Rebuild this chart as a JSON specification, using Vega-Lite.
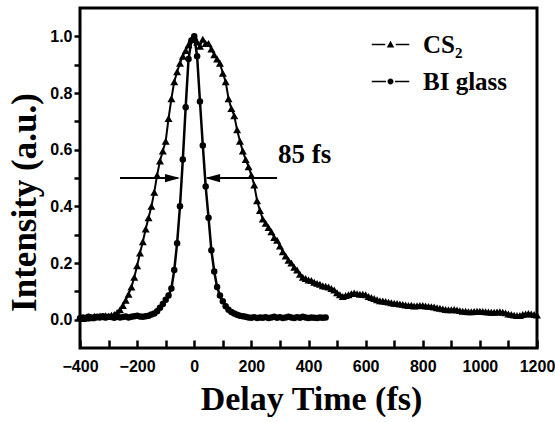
{
  "$schema": "https://vega.github.io/schema/vega-lite/v6.json",
  "width": 457,
  "height": 340,
  "autosize": "none",
  "padding": {"left": 80, "top": 8, "right": 18, "bottom": 74},
  "background": "white",
  "datasets": {
    "cs2": [
      {"t":-400,"v":0.008},{"t":-390,"v":0.004},{"t":-380,"v":0.006},{"t":-370,"v":0.01},{"t":-360,"v":0.007},{"t":-350,"v":0.012},{"t":-340,"v":0.009},{"t":-330,"v":0.013},{"t":-320,"v":0.01},{"t":-310,"v":0.014},{"t":-300,"v":0.012},{"t":-290,"v":0.016},{"t":-280,"v":0.018},{"t":-270,"v":0.025},{"t":-260,"v":0.035},{"t":-250,"v":0.05},{"t":-240,"v":0.068},{"t":-230,"v":0.09},{"t":-220,"v":0.115},{"t":-210,"v":0.15},{"t":-200,"v":0.19},{"t":-190,"v":0.235},{"t":-180,"v":0.275},{"t":-170,"v":0.32},{"t":-160,"v":0.36},{"t":-150,"v":0.4},{"t":-140,"v":0.45},{"t":-130,"v":0.51},{"t":-120,"v":0.56},{"t":-110,"v":0.595},{"t":-100,"v":0.63},{"t":-90,"v":0.71},{"t":-80,"v":0.78},{"t":-70,"v":0.84},{"t":-60,"v":0.875},{"t":-50,"v":0.905},{"t":-40,"v":0.93},{"t":-30,"v":0.95},{"t":-20,"v":0.97},{"t":-10,"v":0.99},{"t":0,"v":1.0},{"t":10,"v":0.98},{"t":20,"v":0.965},{"t":30,"v":0.99},{"t":40,"v":0.975},{"t":50,"v":0.975},{"t":60,"v":0.955},{"t":70,"v":0.935},{"t":80,"v":0.92},{"t":90,"v":0.905},{"t":100,"v":0.87},{"t":110,"v":0.84},{"t":120,"v":0.78},{"t":130,"v":0.745},{"t":140,"v":0.72},{"t":150,"v":0.67},{"t":160,"v":0.63},{"t":170,"v":0.595},{"t":180,"v":0.565},{"t":190,"v":0.54},{"t":200,"v":0.51},{"t":210,"v":0.475},{"t":220,"v":0.42},{"t":230,"v":0.385},{"t":240,"v":0.355},{"t":250,"v":0.34},{"t":260,"v":0.325},{"t":270,"v":0.31},{"t":280,"v":0.29},{"t":290,"v":0.28},{"t":300,"v":0.26},{"t":310,"v":0.24},{"t":320,"v":0.225},{"t":330,"v":0.21},{"t":340,"v":0.2},{"t":350,"v":0.185},{"t":360,"v":0.175},{"t":370,"v":0.16},{"t":380,"v":0.15},{"t":390,"v":0.145},{"t":400,"v":0.14},{"t":410,"v":0.138},{"t":420,"v":0.132},{"t":430,"v":0.128},{"t":440,"v":0.125},{"t":450,"v":0.12},{"t":460,"v":0.118},{"t":470,"v":0.115},{"t":480,"v":0.11},{"t":490,"v":0.105},{"t":500,"v":0.095},{"t":510,"v":0.088},{"t":520,"v":0.082},{"t":530,"v":0.085},{"t":540,"v":0.088},{"t":550,"v":0.092},{"t":560,"v":0.094},{"t":570,"v":0.092},{"t":580,"v":0.09},{"t":590,"v":0.09},{"t":600,"v":0.088},{"t":610,"v":0.082},{"t":620,"v":0.078},{"t":630,"v":0.075},{"t":640,"v":0.07},{"t":650,"v":0.067},{"t":660,"v":0.066},{"t":670,"v":0.064},{"t":680,"v":0.062},{"t":690,"v":0.06},{"t":700,"v":0.058},{"t":710,"v":0.057},{"t":720,"v":0.055},{"t":730,"v":0.054},{"t":740,"v":0.052},{"t":750,"v":0.05},{"t":760,"v":0.051},{"t":770,"v":0.048},{"t":780,"v":0.049},{"t":790,"v":0.05},{"t":800,"v":0.05},{"t":810,"v":0.048},{"t":820,"v":0.047},{"t":830,"v":0.046},{"t":840,"v":0.045},{"t":850,"v":0.042},{"t":860,"v":0.04},{"t":870,"v":0.038},{"t":880,"v":0.036},{"t":890,"v":0.035},{"t":900,"v":0.035},{"t":910,"v":0.036},{"t":920,"v":0.034},{"t":930,"v":0.032},{"t":940,"v":0.03},{"t":950,"v":0.03},{"t":960,"v":0.028},{"t":970,"v":0.028},{"t":980,"v":0.029},{"t":990,"v":0.03},{"t":1000,"v":0.03},{"t":1010,"v":0.029},{"t":1020,"v":0.028},{"t":1030,"v":0.027},{"t":1040,"v":0.026},{"t":1050,"v":0.026},{"t":1060,"v":0.027},{"t":1070,"v":0.028},{"t":1080,"v":0.026},{"t":1090,"v":0.024},{"t":1100,"v":0.02},{"t":1110,"v":0.018},{"t":1120,"v":0.016},{"t":1130,"v":0.015},{"t":1140,"v":0.015},{"t":1150,"v":0.018},{"t":1160,"v":0.02},{"t":1170,"v":0.022},{"t":1180,"v":0.02},{"t":1190,"v":0.018},{"t":1200,"v":0.016}
    ],
    "bi": [
      {"t":-400,"v":0.005},{"t":-390,"v":0.008},{"t":-380,"v":0.006},{"t":-370,"v":0.01},{"t":-360,"v":0.008},{"t":-350,"v":0.007},{"t":-340,"v":0.01},{"t":-330,"v":0.009},{"t":-320,"v":0.012},{"t":-310,"v":0.008},{"t":-300,"v":0.01},{"t":-290,"v":0.009},{"t":-280,"v":0.007},{"t":-270,"v":0.01},{"t":-260,"v":0.008},{"t":-250,"v":0.009},{"t":-240,"v":0.011},{"t":-230,"v":0.008},{"t":-220,"v":0.01},{"t":-210,"v":0.012},{"t":-200,"v":0.014},{"t":-190,"v":0.011},{"t":-180,"v":0.01},{"t":-170,"v":0.012},{"t":-160,"v":0.014},{"t":-150,"v":0.018},{"t":-140,"v":0.022},{"t":-130,"v":0.03},{"t":-120,"v":0.042},{"t":-110,"v":0.055},{"t":-100,"v":0.07},{"t":-90,"v":0.085},{"t":-80,"v":0.11},{"t":-70,"v":0.175},{"t":-60,"v":0.27},{"t":-50,"v":0.4},{"t":-40,"v":0.565},{"t":-30,"v":0.75},{"t":-20,"v":0.92},{"t":-10,"v":0.985},{"t":0,"v":1.0},{"t":10,"v":0.93},{"t":20,"v":0.77},{"t":30,"v":0.615},{"t":40,"v":0.47},{"t":50,"v":0.36},{"t":60,"v":0.245},{"t":70,"v":0.17},{"t":80,"v":0.115},{"t":90,"v":0.085},{"t":100,"v":0.065},{"t":110,"v":0.047},{"t":120,"v":0.035},{"t":130,"v":0.027},{"t":140,"v":0.022},{"t":150,"v":0.017},{"t":160,"v":0.014},{"t":170,"v":0.012},{"t":180,"v":0.01},{"t":190,"v":0.008},{"t":200,"v":0.007},{"t":210,"v":0.009},{"t":220,"v":0.006},{"t":230,"v":0.008},{"t":240,"v":0.007},{"t":250,"v":0.009},{"t":260,"v":0.006},{"t":270,"v":0.008},{"t":280,"v":0.01},{"t":290,"v":0.007},{"t":300,"v":0.009},{"t":310,"v":0.006},{"t":320,"v":0.008},{"t":330,"v":0.01},{"t":340,"v":0.008},{"t":350,"v":0.006},{"t":360,"v":0.009},{"t":370,"v":0.007},{"t":380,"v":0.01},{"t":390,"v":0.008},{"t":400,"v":0.006},{"t":410,"v":0.008},{"t":420,"v":0.007},{"t":430,"v":0.006},{"t":440,"v":0.008},{"t":450,"v":0.007},{"t":460,"v":0.008}
    ],
    "series": [{"s": "CS₂", "t": null, "v": null}, {"s": "BI glass", "t": null, "v": null}],
    "arrows": [
      {"t":-260,"t2":-58,"v":0.5},
      {"t":46,"t2":290,"v":0.5}
    ],
    "headR": [{"t":-50,"v":0.5}],
    "headL": [{"t":38,"v":0.5}],
    "note": [{"t":293,"v":0.553,"label":"85 fs"}]
  },
  "encoding": {
    "x": {
      "field": "t", "type": "quantitative",
      "scale": {"domain": [-400, 1200], "nice": false, "zero": false},
      "axis": {
        "values": [-400,-300,-200,-100,0,100,200,300,400,500,600,700,800,900,1000,1100,1200],
        "format": "d",
        "labelExpr": "datum.value % 200 === 0 ? datum.label : ''",
        "offset": -8,
        "tickSize": 8,
        "tickColor": "black",
        "labelPadding": 10,
        "title": "Delay Time (fs)",
        "titleX": 231,
        "titleY": 69
      }
    },
    "y": {
      "field": "v", "type": "quantitative",
      "scale": {"domain": [-0.1, 1.1], "nice": false, "zero": false},
      "axis": {
        "values": [0,0.1,0.2,0.3,0.4,0.5,0.6,0.7,0.8,0.9,1.0],
        "format": ".1f",
        "labelExpr": "round(datum.value*10) % 2 === 0 ? datum.label : ''",
        "tickSize": 6,
        "tickColor": "black",
        "labelPadding": 2,
        "title": "Intensity (a.u.)",
        "titleFontSize": 35,
        "titleX": -45,
        "titleY": 194
      }
    }
  },
  "layer": [
    {"data": {"name": "cs2"}, "mark": {"type": "line", "color": "black", "strokeWidth": 2}},
    {"data": {"name": "cs2"},
     "mark": {"type": "point", "filled": true, "color": "black", "opacity": 1, "size": 64, "shape": "triangle-up"}},
    {"data": {"name": "bi"}, "mark": {"type": "line", "color": "black", "strokeWidth": 2.5}},
    {"data": {"name": "bi"},
     "mark": {"type": "point", "filled": true, "color": "black", "opacity": 1, "size": 42, "shape": "circle"}},
    {"data": {"name": "series"},
     "mark": {"type": "point", "filled": true, "color": "black", "opacity": 1},
     "encoding": {
       "shape": {
         "field": "s", "type": "nominal",
         "scale": {"domain": ["CS₂", "BI glass"], "range": [
           "M-2.5,-0.1H-0.7V0.1H-2.5ZM0.7,-0.1H2.5V0.1H0.7ZM0,-0.5L0.5,0.4L-0.5,0.4Z",
           "M-2.5,-0.1H-0.6V0.1H-2.5ZM0.6,-0.1H2.5V0.1H0.6ZM-0.4,0A0.4,0.4,0,1,1,0.4,0A0.4,0.4,0,1,1,-0.4,0Z"]},
         "legend": {
           "orient": "none", "legendX": 298, "legendY": 24, "title": null,
           "labelFont": "Liberation Serif", "labelFontWeight": "bold", "labelFontSize": 25, "labelColor": "black",
           "labelBaseline": "middle",
           "labelExpr": "datum.label === 'CS₂' ? '\u00a0\u00a0' + datum.label : datum.label",
           "symbolSize": 225, "labelOffset": 20, "rowPadding": 11,
           "symbolOpacity": 1, "symbolFillColor": "black", "symbolStrokeWidth": 0
         }
       }
     }},
    {"data": {"name": "arrows"}, "mark": {"type": "rule", "color": "black", "strokeWidth": 2},
     "encoding": {"x2": {"field": "t2"}}},
    {"data": {"name": "headR"}, "mark": {"type": "point", "filled": true, "color": "black", "opacity": 1, "size": 225, "shape": "M0,0L-2,-0.55L-2,0.55Z"}},
    {"data": {"name": "headL"}, "mark": {"type": "point", "filled": true, "color": "black", "opacity": 1, "size": 225, "shape": "M0,0L2,-0.55L2,0.55Z"}},
    {"data": {"name": "note"}, "mark": {"type": "text", "align": "left", "baseline": "alphabetic", "font": "Liberation Serif", "fontWeight": "bold", "fontSize": 27, "color": "black"},
     "encoding": {"text": {"field": "label"}}}
  ],
  "config": {
    "view": {"stroke": "black", "strokeWidth": 3},
    "axis": {
      "domain": false, "grid": false, "ticks": true,
      "tickColor": "black", "tickWidth": 2.5,
      "labelFont": "Liberation Sans", "labelFontWeight": "bold", "labelFontSize": 16, "labelColor": "black",
      "labelFlush": false, "labelOverlap": false,
      "titleFont": "Liberation Serif", "titleFontWeight": "bold", "titleFontSize": 34, "titleColor": "black",
      "titleBaseline": "alphabetic"
    }
  }
}
